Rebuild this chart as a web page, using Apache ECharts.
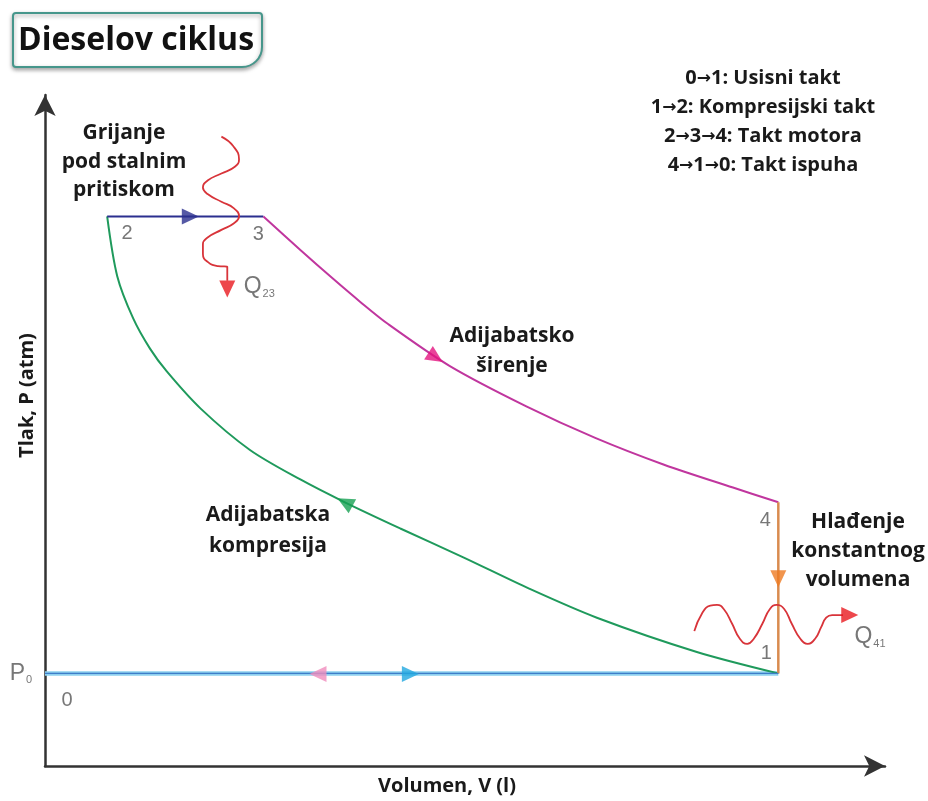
<!DOCTYPE html>
<html>
<head>
<meta charset="utf-8">
<script src="https://cdn.jsdelivr.net/npm/echarts@6/dist/echarts.min.js"></script>
<style>
  html, body { margin: 0; background: #fff; }
  #chart { width: 928px; height: 801px; }
</style>
</head>
<body>
<div id="chart"></div>
<script>
// corner points of the cycle, index = point number
const pointNames = ['0', '1', '2', '3', '4']
const pointV = [0, 8.73, 0.74, 2.6, 8.73]
const pointP = [1.38, 1.38, 8.19, 8.19, 3.93]

// 2 <- 1, adiabatic compression
const compression = [
  [0.74, 8.19], [0.86, 7.30], [1.05, 6.67], [1.25, 6.22],
  [1.45, 5.88], [1.85, 5.33], [2.44, 4.71], [3.04, 4.27], [3.57, 3.93],
  [4.23, 3.54], [4.98, 3.11], [5.77, 2.64], [6.57, 2.21], [7.76, 1.70],
  [8.73, 1.38]
]
// 3 -> 4, adiabatic expansion
const expansion = [
  [2.6, 8.19], [3.04, 7.69], [3.43, 7.26], [3.75, 6.92], [4.08, 6.59],
  [4.82, 5.96], [5.73, 5.36], [6.55, 4.89], [7.37, 4.49], [8.19, 4.15],
  [8.73, 3.93]
]
// heat flow squiggles
const heat23 = [
  [2.10, 9.38], [2.24, 9.24], [2.31, 9.04], [2.26, 8.93], [2.10, 8.83],
  [1.94, 8.73], [1.88, 8.62], [1.94, 8.52], [2.10, 8.41], [2.25, 8.31],
  [2.31, 8.19], [2.25, 8.09], [2.10, 7.99], [1.94, 7.88], [1.88, 7.78],
  [1.88, 7.63], [1.94, 7.51], [2.06, 7.45], [2.17, 7.44], [2.17, 7.23]
]
const heat41 = [
  [7.73, 2.01], [7.82, 2.27], [7.92, 2.39], [8.00, 2.40], [8.08, 2.34],
  [8.18, 2.12], [8.27, 1.90], [8.36, 1.82], [8.44, 1.90], [8.54, 2.12],
  [8.63, 2.34], [8.71, 2.40], [8.80, 2.34], [8.89, 2.12], [8.99, 1.90],
  [9.08, 1.82], [9.17, 1.90], [9.24, 2.07], [9.30, 2.21], [9.37, 2.25],
  [9.50, 2.25]
]
// direction arrows: position [V, P], rotation, colour
const arrowPos = [
  [1.73, 8.19], [4.65, 6.09], [8.73, 2.79], [3.57, 3.93],
  [3.25, 1.37], [4.35, 1.37], [2.17, 7.11], [9.58, 2.25]
]
const arrowAngle = [-90, -123, 180, 62, 90, -90, 180, -90]
const arrowColor = ['#2b2f8f', '#e4147f', '#ee7a22', '#17a053',
  '#f08cbd', '#22a7e0', '#e8191f', '#e8191f']

const legendLines = [
  '0{ar|→}1: Usisni takt',
  '1{ar|→}2: Kompresijski takt',
  '2{ar|→}3{ar|→}4: Takt motora',
  '4{ar|→}1{ar|→}0: Takt ispuha'
]

const boldFont = '"Open Sans", "Noto Sans", sans-serif'
const thinFont = '"Liberation Sans", Arial, sans-serif'

const chart = echarts.init(document.getElementById('chart'))

const seg = (a, b) => [[pointV[a], pointP[a]], [pointV[b], pointP[b]]]

const lineSeries = (data, color, width, smooth, z) => ({
  type: 'line',
  data,
  smooth,
  symbol: 'none',
  z: z || 2,
  silent: true,
  lineStyle: { color, width }
})

const note = (x, y, text, lineHeight) => ({
  type: 'text', x, y,
  style: {
    text, font: 'bold 21px ' + boldFont, fill: '#1a1a1a',
    align: 'center', verticalAlign: 'middle', lineHeight
  }
})

const labelOffsets = [[22, 27], [-12, -20], [20, 17], [-5, 18], [-13, 18]]

chart.setOption({
  animation: false,
  grid: { left: 45, top: 95, width: 840, height: 675 },
  xAxis: {
    type: 'value', min: 0, max: 10,
    name: 'Volumen, V (l)',
    nameLocation: 'middle',
    nameGap: 10,
    nameTextStyle: { fontFamily: boldFont, fontWeight: 'bold', fontSize: 20, color: '#1a1a1a', padding: [0, 36, 0, 0] },
    axisLine: { onZero: false, symbol: ['none', 'arrow'], symbolSize: [16, 21], lineStyle: { color: '#333', width: 2.5 } },
    axisTick: { show: false }, axisLabel: { show: false }, splitLine: { show: false }
  },
  yAxis: {
    type: 'value', min: 0, max: 10,
    name: 'Tlak, P (atm)',
    nameLocation: 'middle',
    nameGap: 8,
    nameTextStyle: { fontFamily: boldFont, fontWeight: 'bold', fontSize: 20, color: '#1a1a1a', padding: [0, 0, 0, 70] },
    axisLine: { onZero: false, symbol: ['none', 'arrow'], symbolSize: [16, 21], lineStyle: { color: '#333', width: 2.5 } },
    axisTick: { show: false }, axisLabel: { show: false }, splitLine: { show: false }
  },
  graphic: [
    {
      type: 'rect', x: 13, y: 13,
      shape: { width: 249, height: 54, r: [3, 3, 20, 3] },
      style: { fill: '#fff', stroke: '#46968b', lineWidth: 2, shadowBlur: 4, shadowOffsetY: 2, shadowColor: 'rgba(0,0,0,0.35)' }
    },
    {
      type: 'text', x: 18, y: 41,
      style: { text: 'Dieselov ciklus', font: 'bold 32px ' + boldFont, fill: '#111', verticalAlign: 'middle' }
    },
    {
      type: 'text', x: 763, y: 122,
      style: {
        text: legendLines.join('\n'), font: 'bold 20px ' + boldFont, fill: '#1a1a1a',
        align: 'center', verticalAlign: 'middle', lineHeight: 29,
        rich: { ar: { font: 'bold 17px "DejaVu Sans", sans-serif', fill: '#1a1a1a', lineHeight: 29 } }
      }
    },
    note(124, 162, 'Grijanje\npod stalnim\npritiskom', 28.5),
    note(512, 351, 'Adijabatsko\nširenje', 30),
    note(268, 531, 'Adijabatska\nkompresija', 31),
    note(858, 551, 'Hlađenje\nkonstantnog\nvolumena', 29)
  ],
  series: [
    lineSeries(seg(0, 1), '#8dd0ef', 4.5, false),
    lineSeries(seg(1, 0), '#3f7dc8', 1.2, false, 3),
    lineSeries(compression, '#1f9a5c', 2, 0.3),
    lineSeries(seg(2, 3), '#2b2f8f', 2, false),
    lineSeries(expansion, '#c0369e', 2, 0.3),
    lineSeries(seg(4, 1), '#d98b4f', 2.5, false),
    lineSeries(heat23, '#d8343a', 1.8, 0.5, 4),
    lineSeries(heat41, '#d8343a', 1.8, 0.5, 4),
    {
      type: 'scatter',
      silent: true,
      z: 5,
      symbol: 'triangle',
      symbolSize: [16, 17],
      data: arrowPos.map((p, i) => ({
        value: p,
        symbolRotate: arrowAngle[i],
        itemStyle: { color: arrowColor[i] }
      }))
    },
    {
      type: 'scatter',
      silent: true,
      z: 6,
      symbolSize: 0,
      data: pointNames.map((n, i) => ({
        value: [pointV[i], pointP[i]],
        label: { show: true, formatter: n, offset: labelOffsets[i] }
      })).concat([
        {
          value: [pointV[0], pointP[0]],
          label: { show: true, formatter: '{a|P}{b|0}', offset: [-24, 0] }
        },
        {
          value: heat23[heat23.length - 1],
          label: { show: true, formatter: '{a|Q}{b|23}', offset: [32, 6] }
        },
        {
          value: heat41[heat41.length - 1],
          label: { show: true, formatter: '{a|Q}{b|41}', offset: [27, 22] }
        }
      ]),
      label: {
        position: 'inside',
        fontFamily: thinFont,
        fontSize: 20,
        color: '#555',
        rich: {
          a: { fontFamily: thinFont, fontSize: 23, color: '#555' },
          b: { fontFamily: thinFont, fontSize: 11, color: '#555', padding: [14, 0, 0, 1] }
        }
      }
    }
  ]
})
</script>
</body>
</html>
